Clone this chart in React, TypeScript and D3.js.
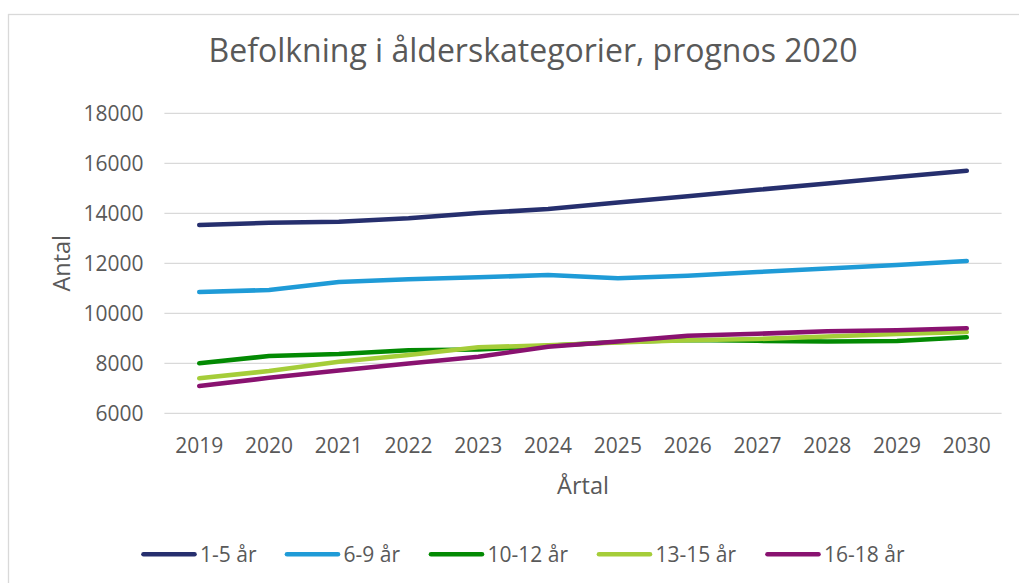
import React from "react";
import * as d3 from "d3";

const years = ["2019","2020","2021","2022","2023","2024","2025","2026","2027","2028","2029","2030"];
const seriesNames = ["1-5 år", "6-9 år", "10-12 år", "13-15 år", "16-18 år"];
const age1to5 = [13530, 13620, 13660, 13800, 14010, 14170, 14430, 14680, 14940, 15190, 15450, 15700];
const age6to9 = [10850, 10930, 11250, 11360, 11440, 11530, 11400, 11500, 11650, 11790, 11930, 12090];
const age10to12 = [8000, 8290, 8370, 8520, 8550, 8700, 8850, 8930, 8900, 8870, 8890, 9040];
const age13to15 = [7400, 7690, 8060, 8330, 8640, 8720, 8830, 8920, 8970, 9070, 9170, 9250];
const age16to18 = [7090, 7420, 7710, 7990, 8260, 8660, 8870, 9100, 9180, 9280, 9320, 9400];
const yTicks = [6000, 8000, 10000, 12000, 14000, 16000, 18000];
const colors = ["#262f6e", "#1f9bd7", "#038a03", "#a5cd39", "#891270"];

const allSeries = [age1to5, age6to9, age10to12, age13to15, age16to18];

const W = 1019;
const H = 583;
const plotLeft = 164.4;
const plotRight = 1001.6;
const plotTop = 113.3;
const plotBottom = 413.3;
const legendStarts = [141.5, 285, 429, 597, 765.5];
const FONT = "'Open Sans', 'Noto Sans', sans-serif";
const TEXT = "#595959";

export default function App() {
  const x = d3.scalePoint<string>().domain(years).range([plotLeft, plotRight]).padding(0.5);
  const y = d3.scaleLinear().domain([6000, 18000]).range([plotBottom, plotTop]);
  const line = d3
    .line<number>()
    .x((_, i) => x(years[i]) as number)
    .y((d) => y(d));

  return (
    <svg
      width={W}
      height={H}
      style={{ position: "absolute", left: 0, top: 0, background: "#fff" }}
      fontFamily={FONT}
    >
      <rect x={0} y={0} width={W} height={H} fill="#fff" />
      <rect x={8.5} y={14.5} width={W + 20} height={H + 20} fill="#fff" stroke="#d9d9d9" strokeWidth={1.3} />
      <text x={533} y={62} textAnchor="middle" fontSize={32} fill={TEXT}>
        Befolkning i ålderskategorier, prognos 2020
      </text>
      {yTicks.map((t) => (
        <g key={t}>
          <line x1={plotLeft} x2={plotRight} y1={y(t)} y2={y(t)} stroke="#d9d9d9" strokeWidth={1.3} />
          <text x={143.5} y={y(t)} dy="0.36em" textAnchor="end" fontSize={21} fill={TEXT}>
            {t}
          </text>
        </g>
      ))}
      {years.map((yr) => (
        <text key={yr} x={x(yr) as number} y={452.5} textAnchor="middle" fontSize={21} fill={TEXT}>
          {yr}
        </text>
      ))}
      <text x={(plotLeft + plotRight) / 2} y={494} textAnchor="middle" fontSize={23.5} fill={TEXT}>
        Årtal
      </text>
      <text
        transform={`translate(70, ${(plotTop + plotBottom) / 2}) rotate(-90)`}
        textAnchor="middle"
        fontSize={23.5}
        fill={TEXT}
      >
        Antal
      </text>
      {allSeries.map((s, i) => (
        <path
          key={seriesNames[i]}
          d={line(s) as string}
          fill="none"
          stroke={colors[i]}
          strokeWidth={4.6}
          strokeLinecap="round"
          strokeLinejoin="round"
        />
      ))}
      {seriesNames.map((n, i) => (
        <g key={n}>
          <line
            x1={legendStarts[i] + 2}
            x2={legendStarts[i] + 53}
            y1={554.3}
            y2={554.3}
            stroke={colors[i]}
            strokeWidth={4.6}
            strokeLinecap="round"
          />
          <text x={legendStarts[i] + 58.5} y={562} fontSize={21} fill={TEXT}>
            {n}
          </text>
        </g>
      ))}
    </svg>
  );
}
